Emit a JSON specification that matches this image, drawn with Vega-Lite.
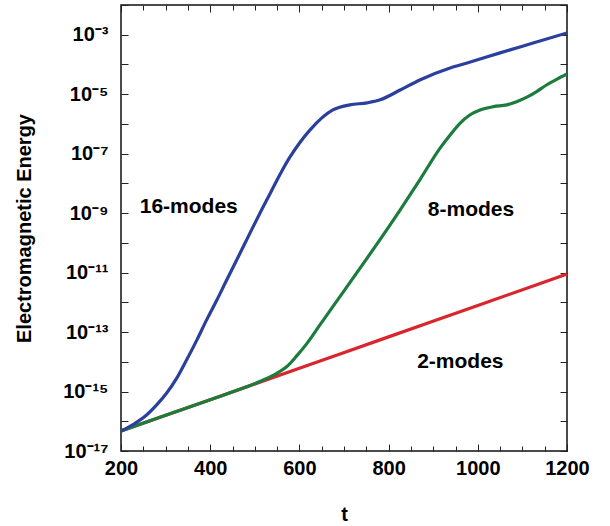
{
  "$schema": "https://vega.github.io/schema/vega-lite/v6.json",
  "width": 446,
  "height": 446,
  "autosize": {"type": "none"},
  "padding": {"left": 121, "top": 5, "right": 43, "bottom": 75},
  "config": {
    "view": {"stroke": "#111", "strokeWidth": 1.5},
    "font": "Liberation Sans",
    "axis": {
      "grid": false,
      "domain": false,
      "tickColor": "#222",
      "tickWidth": 1,
      "labelFont": "Liberation Sans",
      "labelFontWeight": "bold",
      "labelFontSize": 20,
      "labelColor": "#000",
      "titleFont": "Liberation Sans",
      "titleFontWeight": "bold",
      "titleFontSize": 20,
      "titleColor": "#000"
    }
  },
  "datasets": {
    "curves": [
      {"s": "2-modes", "t": 200, "E": 4.68e-17},
      {"s": "2-modes", "t": 400, "E": 5.32e-16},
      {"s": "2-modes", "t": 600, "E": 6.05e-15},
      {"s": "2-modes", "t": 800, "E": 6.89e-14},
      {"s": "2-modes", "t": 1000, "E": 7.83e-13},
      {"s": "2-modes", "t": 1200, "E": 8.91e-12},
      {"s": "8-modes", "t": 200, "E": 4.68e-17},
      {"s": "8-modes", "t": 300, "E": 1.58e-16},
      {"s": "8-modes", "t": 400, "E": 5.32e-16},
      {"s": "8-modes", "t": 480, "E": 1.41e-15},
      {"s": "8-modes", "t": 518, "E": 2.4e-15},
      {"s": "8-modes", "t": 550, "E": 4.17e-15},
      {"s": "8-modes", "t": 572, "E": 6.92e-15},
      {"s": "8-modes", "t": 594, "E": 1.58e-14},
      {"s": "8-modes", "t": 617, "E": 4.17e-14},
      {"s": "8-modes", "t": 646, "E": 1.74e-13},
      {"s": "8-modes", "t": 826, "E": 1.29e-9},
      {"s": "8-modes", "t": 870, "E": 1.32e-8},
      {"s": "8-modes", "t": 915, "E": 1.51e-7},
      {"s": "8-modes", "t": 938, "E": 4.27e-7},
      {"s": "8-modes", "t": 960, "E": 1.05e-6},
      {"s": "8-modes", "t": 982, "E": 2.0e-6},
      {"s": "8-modes", "t": 1005, "E": 2.95e-6},
      {"s": "8-modes", "t": 1035, "E": 3.8e-6},
      {"s": "8-modes", "t": 1065, "E": 4.37e-6},
      {"s": "8-modes", "t": 1087, "E": 5.62e-6},
      {"s": "8-modes", "t": 1110, "E": 7.94e-6},
      {"s": "8-modes", "t": 1132, "E": 1.23e-5},
      {"s": "8-modes", "t": 1154, "E": 2.04e-5},
      {"s": "8-modes", "t": 1177, "E": 3.16e-5},
      {"s": "8-modes", "t": 1200, "E": 4.79e-5},
      {"s": "16-modes", "t": 200, "E": 4.68e-17},
      {"s": "16-modes", "t": 228, "E": 7.94e-17},
      {"s": "16-modes", "t": 258, "E": 1.66e-16},
      {"s": "16-modes", "t": 280, "E": 3.55e-16},
      {"s": "16-modes", "t": 302, "E": 8.71e-16},
      {"s": "16-modes", "t": 325, "E": 2.82e-15},
      {"s": "16-modes", "t": 347, "E": 1.15e-14},
      {"s": "16-modes", "t": 370, "E": 5.37e-14},
      {"s": "16-modes", "t": 392, "E": 2.57e-13},
      {"s": "16-modes", "t": 415, "E": 1.2e-12},
      {"s": "16-modes", "t": 437, "E": 5.62e-12},
      {"s": "16-modes", "t": 451, "E": 1.48e-11},
      {"s": "16-modes", "t": 527, "E": 2.82e-9},
      {"s": "16-modes", "t": 579, "E": 7.76e-8},
      {"s": "16-modes", "t": 624, "E": 6.31e-7},
      {"s": "16-modes", "t": 675, "E": 2.95e-6},
      {"s": "16-modes", "t": 713, "E": 4.37e-6},
      {"s": "16-modes", "t": 752, "E": 5.13e-6},
      {"s": "16-modes", "t": 781, "E": 6.46e-6},
      {"s": "16-modes", "t": 826, "E": 1.38e-5},
      {"s": "16-modes", "t": 870, "E": 3.02e-5},
      {"s": "16-modes", "t": 938, "E": 7.59e-5},
      {"s": "16-modes", "t": 976, "E": 1.12e-4},
      {"s": "16-modes", "t": 1050, "E": 2.45e-4},
      {"s": "16-modes", "t": 1124, "E": 5.25e-4},
      {"s": "16-modes", "t": 1200, "E": 1.15e-3}
    ],
    "labels": [
      {"label": "16-modes", "t": 242, "E": 1.55e-9},
      {"label": "8-modes", "t": 888, "E": 1.32e-9},
      {"label": "2-modes", "t": 864, "E": 9.5e-15}
    ]
  },
  "resolve": {"axis": {"x": "independent", "y": "independent"}},
  "layer": [
    {
      "data": {"name": "curves"},
      "mark": {"type": "line", "strokeWidth": 3.2, "interpolate": "monotone", "clip": true},
      "encoding": {
        "x": {
          "field": "t", "type": "quantitative",
          "scale": {"domain": [200, 1200], "nice": false, "zero": false},
          "axis": {
            "orient": "bottom", "values": [200, 400, 600, 800, 1000, 1200], "format": "d",
            "tickSize": -7, "labelPadding": 14, "title": "t", "titlePadding": 26,
            "labelFlush": false, "labelOverlap": false
          }
        },
        "y": {
          "field": "E", "type": "quantitative",
          "scale": {"type": "log", "domain": [1e-17, 1e-2], "nice": false},
          "axis": {
            "orient": "left",
            "values": [1e-17, 1e-16, 1e-15, 1e-14, 1e-13, 1e-12, 1e-11, 1e-10, 1e-9, 1e-8, 1e-7, 1e-6, 1e-5, 1e-4, 1e-3, 1e-2],
            "tickSize": -7, "labelPadding": 20, "labelOverlap": false, "labelFlush": false,
            "title": "Electromagnetic Energy", "titlePadding": 28,
            "labelExpr": "round(log(datum.value)/LN10) == -3 ? '10⁻³' : round(log(datum.value)/LN10) == -5 ? '10⁻⁵' : round(log(datum.value)/LN10) == -7 ? '10⁻⁷' : round(log(datum.value)/LN10) == -9 ? '10⁻⁹' : round(log(datum.value)/LN10) == -11 ? '10⁻¹¹' : round(log(datum.value)/LN10) == -13 ? '10⁻¹³' : round(log(datum.value)/LN10) == -15 ? '10⁻¹⁵' : round(log(datum.value)/LN10) == -17 ? '10⁻¹⁷' : ''"
          }
        },
        "color": {
          "field": "s", "type": "nominal",
          "scale": {"domain": ["2-modes", "8-modes", "16-modes"], "range": ["#d8262c", "#1b7c3d", "#2b3f9c"]},
          "legend": null
        }
      }
    },
    {
      "data": {"name": "labels"},
      "mark": {"type": "text", "align": "left", "baseline": "middle", "fontSize": 21, "fontWeight": "bold", "font": "Liberation Sans", "color": "#000"},
      "encoding": {
        "x": {
          "field": "t", "type": "quantitative",
          "scale": {"domain": [200, 1200], "nice": false, "zero": false},
          "axis": {
            "orient": "bottom", "values": [200, 250, 300, 350, 400, 450, 500, 550, 600, 650, 700, 750, 800, 850, 900, 950, 1000, 1050, 1100, 1150, 1200],
            "tickSize": -5, "labels": false, "title": null
          }
        },
        "y": {
          "field": "E", "type": "quantitative",
          "scale": {"type": "log", "domain": [1e-17, 1e-2], "nice": false},
          "axis": {
            "orient": "right",
            "values": [1e-17, 1e-16, 1e-15, 1e-14, 1e-13, 1e-12, 1e-11, 1e-10, 1e-9, 1e-8, 1e-7, 1e-6, 1e-5, 1e-4, 1e-3, 1e-2],
            "tickSize": -7, "labels": false, "title": null
          }
        },
        "text": {"field": "label", "type": "nominal"}
      }
    },
    {
      "data": {"name": "labels"},
      "mark": {"type": "point", "opacity": 0},
      "encoding": {
        "x": {
          "field": "t", "type": "quantitative",
          "scale": {"domain": [200, 1200], "nice": false, "zero": false},
          "axis": {
            "orient": "top", "values": [200, 400, 600, 800, 1000, 1200],
            "tickSize": -7, "labels": false, "title": null
          }
        },
        "y": {
          "field": "E", "type": "quantitative",
          "scale": {"type": "log", "domain": [1e-17, 1e-2], "nice": false},
          "axis": null
        }
      }
    },
    {
      "data": {"name": "labels"},
      "mark": {"type": "point", "opacity": 0},
      "encoding": {
        "x": {
          "field": "t", "type": "quantitative",
          "scale": {"domain": [200, 1200], "nice": false, "zero": false},
          "axis": {
            "orient": "top", "values": [200, 250, 300, 350, 400, 450, 500, 550, 600, 650, 700, 750, 800, 850, 900, 950, 1000, 1050, 1100, 1150, 1200],
            "tickSize": -5, "labels": false, "title": null
          }
        },
        "y": {
          "field": "E", "type": "quantitative",
          "scale": {"type": "log", "domain": [1e-17, 1e-2], "nice": false},
          "axis": null
        }
      }
    }
  ]
}
